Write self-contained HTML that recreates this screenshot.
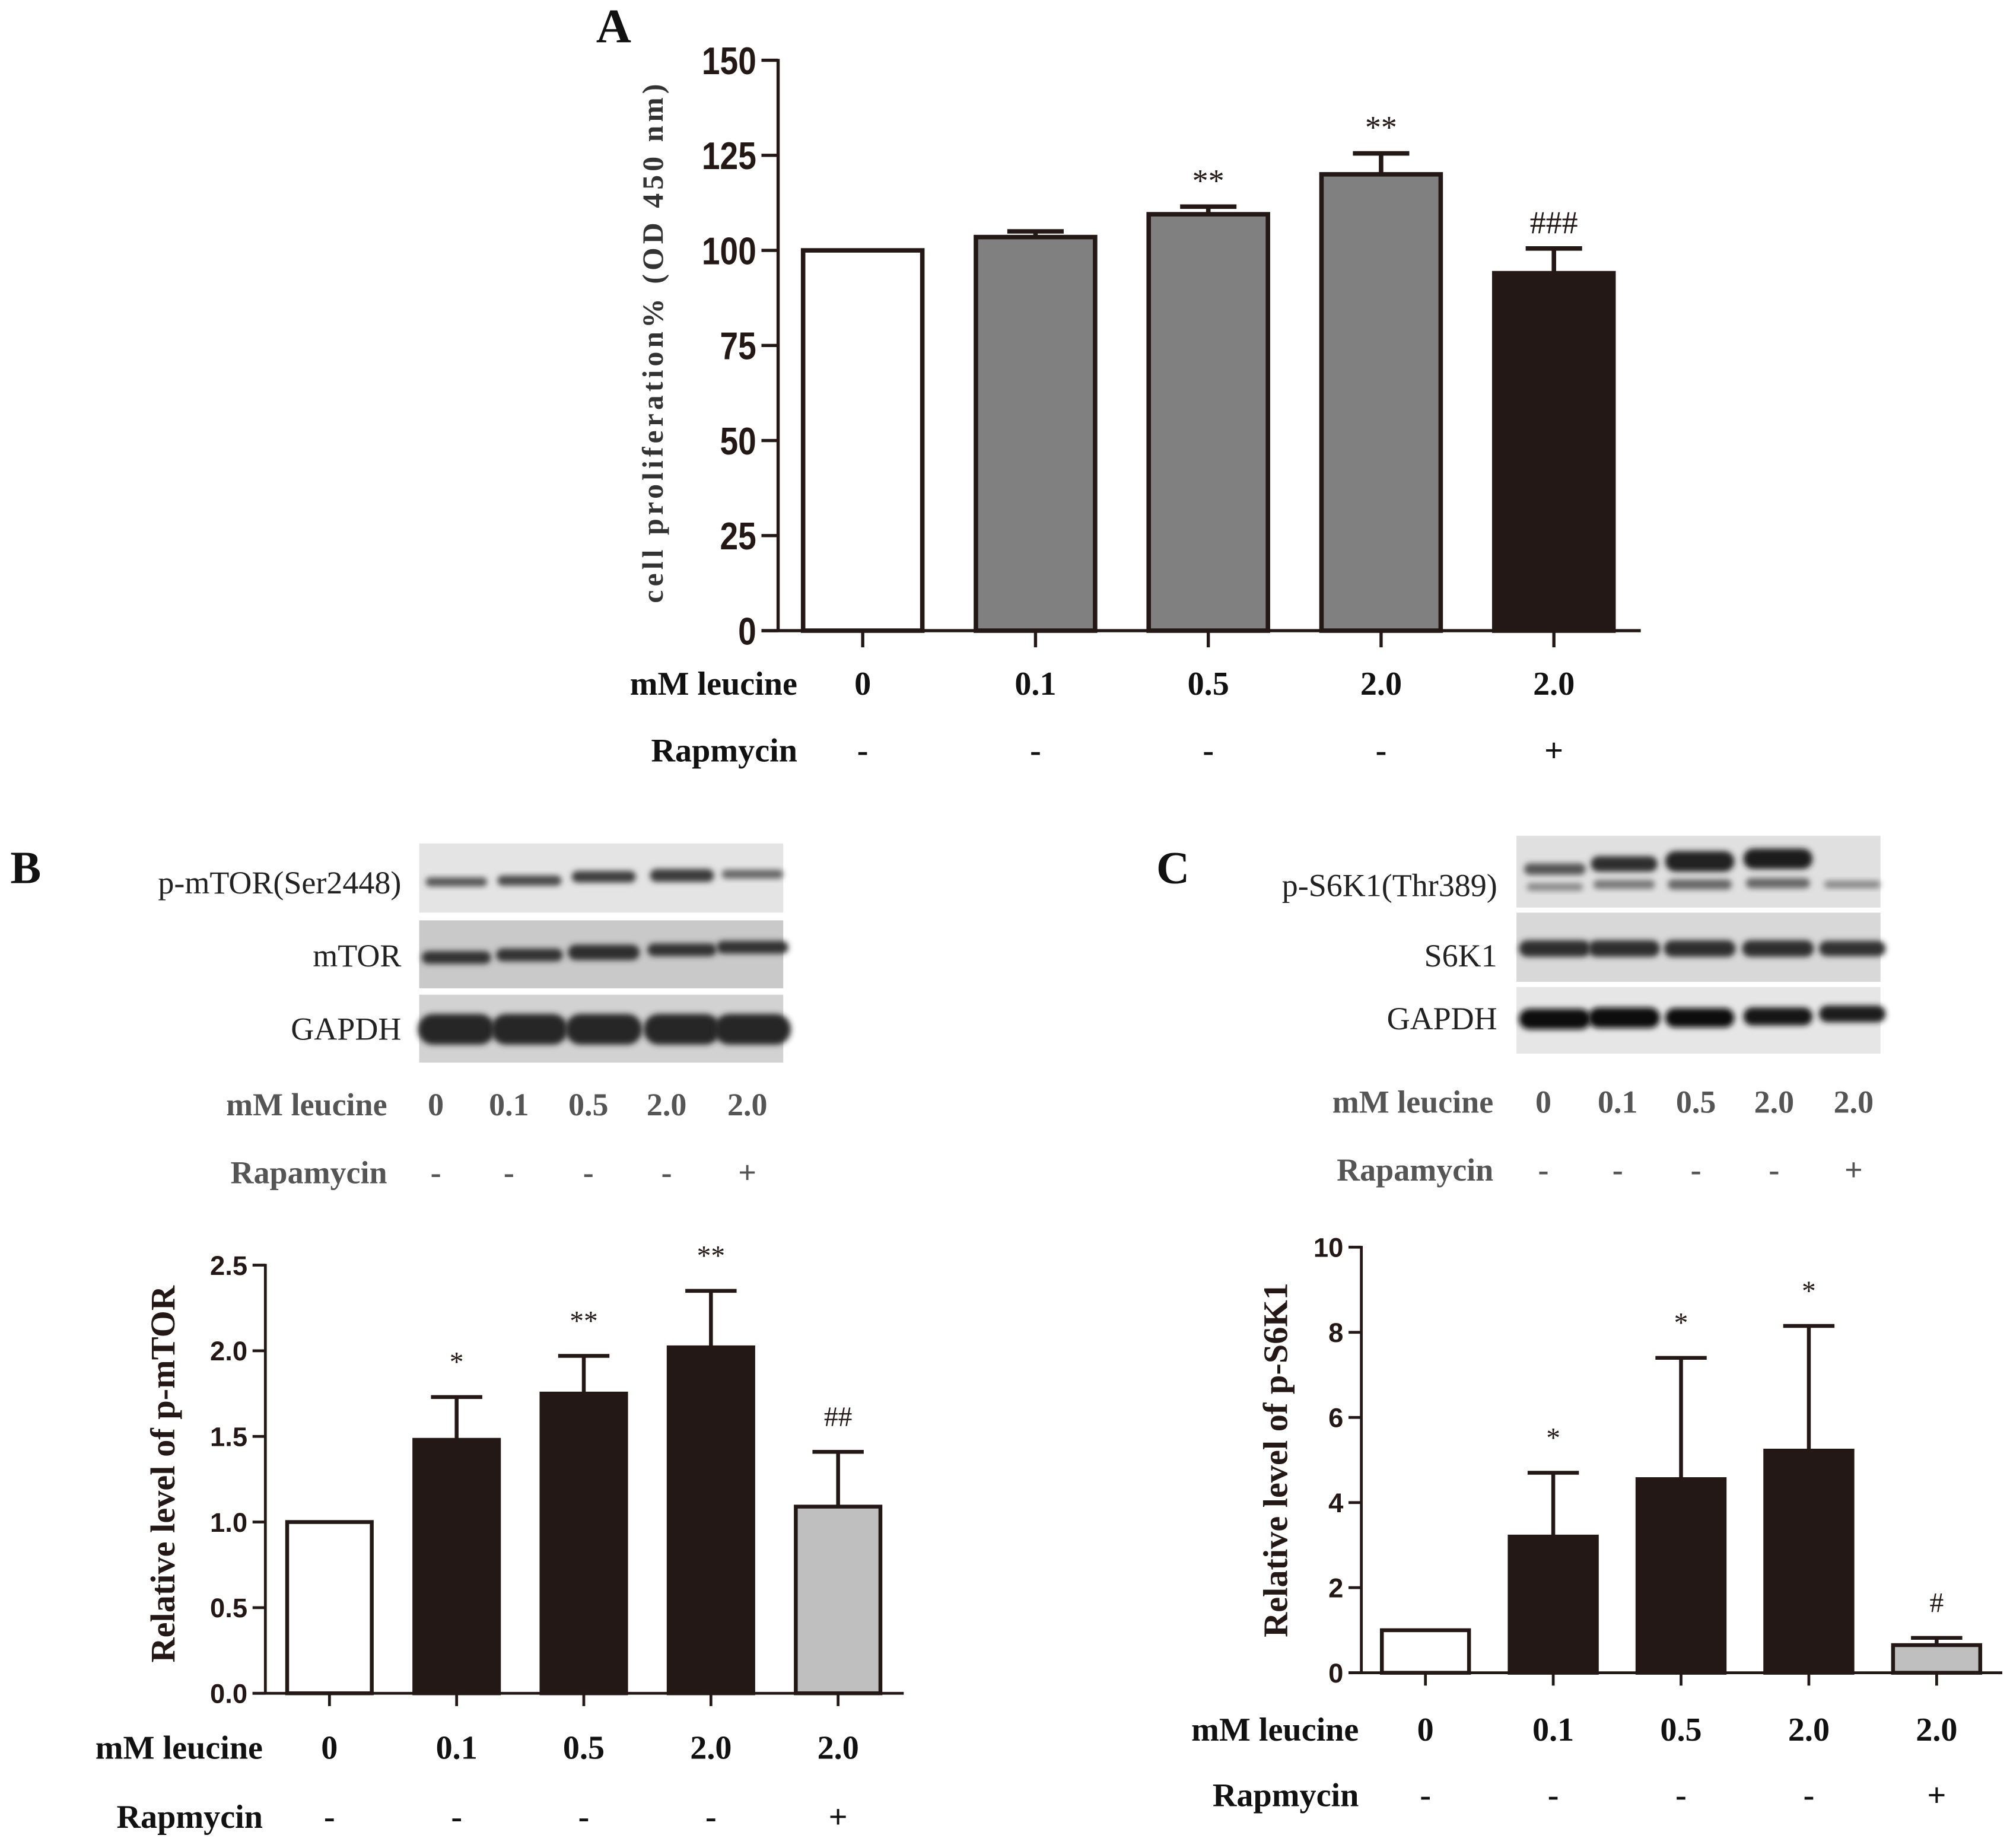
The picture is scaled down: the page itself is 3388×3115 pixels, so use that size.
<!DOCTYPE html>
<html><head><meta charset="utf-8"><style>
html,body{margin:0;padding:0;background:#fff;}
svg{display:block;}
.serif{font-family:"Liberation Serif",serif;}
.sans{font-family:"Liberation Sans",sans-serif;}
</style></head><body>
<svg id="fig" width="3388" height="3115" viewBox="0 0 1568 1441.7" xmlns="http://www.w3.org/2000/svg">
<defs><filter id="blur" x="-20%" y="-50%" width="140%" height="200%"><feGaussianBlur stdDeviation="2.2"/></filter></defs>
<g id="root"></g>
</svg>
<script>
// ---- Panel A data ----
const catsA = ["0","0.1","0.5","2.0","2.0"];
const rapA = ["-","-","-","-","+"];
const valsA = [100, 103.5, 109.5, 120, 94];
const errA = [100, 105, 111.5, 125.5, 100.5];
const sigA = ["", "", "**", "**", "###"];
const ticksA = [0,25,50,75,100,125,150];
// ---- Panel B data ----
const valsB = [1.0, 1.48, 1.75, 2.02, 1.09];
const errB = [1.0, 1.73, 1.97, 2.35, 1.41];
const sigB = ["", "*", "**", "**", "##"];
const ticksB = [0,0.5,1.0,1.5,2.0,2.5];
// ---- Panel C data ----
const valsC = [1.0, 3.2, 4.55, 5.22, 0.65];
const errC = [1.0, 4.7, 7.4, 8.15, 0.82];
const sigC = ["", "*", "*", "*", "#"];
const ticksC = [0,2,4,6,8,10];

const NS = "http://www.w3.org/2000/svg";
const root = document.getElementById('root');
function mk(tag, attrs, parent, text){
  const e = document.createElementNS(NS, tag);
  for (const k in attrs) e.setAttribute(k, attrs[k]);
  if (text !== undefined) e.textContent = text;
  (parent||root).appendChild(e);
  return e;
}

function chart(o){
  const g = mk('g', {});
  
  
  const y = v => o.y0 - (v - o.min) / (o.max - o.min) * (o.y0 - o.y1);
  const x = i => o.x0 + o.first + i * o.step;
  const ax = mk('line', {x1:o.x0, y1:o.y1-1, x2:o.x0, y2:o.y0, stroke:'#231815', 'stroke-width':o.aw}, g);
  
  
  const bx = mk('line', {x1:o.x0 - o.tl, y1:o.y0, x2:o.xEnd, y2:o.y0, stroke:'#231815', 'stroke-width':o.aw}, g);
  
  
  o.ticks.forEach(t => {
    const tk = mk('line', {x1:o.x0 - o.tl, y1:y(t), x2:o.x0, y2:y(t), stroke:'#231815', 'stroke-width':o.aw}, g);
    
    
    const lx = o.x0 - o.tl - 4;
    const lb = mk('text', {x:lx, y:y(t) + o.tfs*0.36, 'text-anchor':'end', 'font-size':o.tfs, 'font-weight':'bold', class:'sans', fill:'#231815', transform:`translate(${lx},0) scale(${o.tsx},1) translate(${-lx},0)`}, g, o.fmt(t));
    
    
  });
  o.vals.forEach((v, i) => {
    const cx = x(i);
    if (o.err[i] > v) {
      const el = mk('line', {x1:cx, y1:y(o.err[i]), x2:cx, y2:y(v), stroke:'#231815', 'stroke-width':o.bw}, g);
      
      
      const cap = mk('line', {x1:cx - o.cap, y1:y(o.err[i]), x2:cx + o.cap, y2:y(o.err[i]), stroke:'#231815', 'stroke-width':o.bw}, g);
      
      
    }
    const r = mk('rect', {x:cx - o.w/2, y:y(v), width:o.w, height:o.y0 - y(v), fill:o.fills[i], stroke:'#231815', 'stroke-width':o.bw}, g);
    
    
    const xt = mk('line', {x1:cx, y1:o.y0, x2:cx, y2:o.y0 + o.tl, stroke:'#231815', 'stroke-width':o.aw}, g);
    
    
    if (o.sig[i]) {
      const top = Math.max(o.err[i], v);
      const s = mk('text', {x:cx, y:y(top) - o.sigGap, 'text-anchor':'middle', 'font-size':o.sfs, class:'serif', fill:'#231815'}, g, o.sig[i]);
      
      
    }
    const c = mk('text', {x:cx, y:o.rowY1, 'text-anchor':'middle', 'font-size':o.rfs, 'font-weight':'bold', class:'serif', fill:'#111'}, g, catsA[i]);
    
    
    const rp = mk('text', {x:cx, y:o.rowY2, 'text-anchor':'middle', 'font-size':o.rfs, 'font-weight':'bold', class:'serif', fill:'#111'}, g, rapA[i]);
    
    
  });
  const l1 = mk('text', {x:o.rowLx, y:o.rowY1, 'text-anchor':'end', 'font-size':o.rfs, 'font-weight':'bold', class:'serif', fill:'#111'}, g, 'mM leucine');
  
  
  const l2 = mk('text', {x:o.rowLx, y:o.rowY2, 'text-anchor':'end', 'font-size':o.rfs, 'font-weight':'bold', class:'serif', fill:'#111'}, g, 'Rapmycin');
  
  
  const ta = {x:0, y:0, 'text-anchor':'middle', 'font-size':o.yfs, 'font-weight':'bold', class:'serif', fill:o.ycol, transform:`translate(${o.ytx},${o.ytc}) rotate(-90)`};
  if (o.ylen) { ta.textLength = o.ylen; ta.lengthAdjust = 'spacing'; }
  const yt = mk('text', ta, g, o.ytitle);
  
  
}

chart({name:'chart-a', x0:607, y0:492, y1:47, min:0, max:150, first:66, step:134.8, w:93, xEnd:1280,
  vals:valsA, err:errA, sig:sigA, ticks:ticksA, fills:['#fff','#808080','#808080','#808080','#231815'],
  fmt:t=>String(t), aw:2.5, bw:3.5, tl:13, cap:22, tfs:30, tsx:0.85, sfs:25, sigGap:12,
  rowY1:542, rowY2:594, rowLx:622, rfs:26, yfs:23, ycol:'#333', ytx:517, ytc:268, ylen:405, ytitle:'cell proliferation% (OD 450 nm)'});

chart({name:'chart-b', x0:207, y0:1321, y1:987, min:0, max:2.5, first:50, step:99.2, w:66, xEnd:705,
  vals:valsB, err:errB, sig:sigB, ticks:ticksB, fills:['#fff','#231815','#231815','#231815','#bfbfbf'],
  fmt:t=>t.toFixed(1), aw:2.2, bw:3, tl:10, cap:20, tfs:21, tsx:1, sfs:22, sigGap:20,
  rowY1:1372, rowY2:1426, rowLx:205, rfs:26, yfs:27, ycol:'#231815', ytx:136, ytc:1150, ytitle:'Relative level of p-mTOR'});

chart({name:'chart-c', x0:1062, y0:1305, y1:973, min:0, max:10, first:50, step:99.7, w:68, xEnd:1562,
  vals:valsC, err:errC, sig:sigC, ticks:ticksC, fills:['#fff','#231815','#231815','#231815','#bfbfbf'],
  fmt:t=>String(t), aw:2.2, bw:3, tl:10, cap:20, tfs:21, tsx:1, sfs:22, sigGap:20,
  rowY1:1358, rowY2:1409, rowLx:1060, rfs:26, yfs:27, ycol:'#231815', ytx:1004, ytc:1139, ytitle:'Relative level of p-S6K1'});

[['A',465,33,38],['B',8,689,36],['C',902,689,36]].forEach(([t,x,y,s])=>{
  const e = mk('text', {x:x, y:y, 'font-size':s, 'font-weight':'bold', class:'serif', fill:'#111'}, root, t);
  
  
});

function blot(name, label, bx, by, bw, bh, bg, lanes, bands, lx, ly){
  const g = mk('g', {});
  
  
  mk('rect', {x:bx, y:by, width:bw, height:bh, fill:bg}, g);
  lanes.forEach((cx, i) => {
    bands[i].forEach(b => {
      const e = mk('rect', {x:cx - b[2]/2, y:by + b[0] - b[1]/2, width:b[2], height:b[1], rx:b[1]/2, fill:b[3], filter:'url(#blur)'}, g);
      
      
    });
  });
  const t = mk('text', {x:lx, y:ly, 'text-anchor':'end', 'font-size':25, class:'serif', fill:'#222'}, root, label);
  
  
}
const lanesB = [356, 413, 471, 532, 587];
blot('blot-p-mtor','p-mTOR(Ser2448)',327,658,284,54,'#e4e4e4',lanesB,
  [[[30,7,48,'#555']],[[29,8,50,'#4a4a4a']],[[26,9,50,'#3e3e3e']],[[25,10,50,'#3a3a3a']],[[24,7,48,'#666']]],313,697);
blot('blot-mtor','mTOR',327,718,284,53,'#c9c9c9',lanesB,
  [[[29,10,54,'#333']],[[27,10,52,'#333']],[[25,12,56,'#2e2e2e']],[[23,10,54,'#333']],[[21,10,56,'#333']]],313,754);
blot('blot-gapdh-b','GAPDH',327,776,284,53,'#d2d2d2',lanesB,
  [[[27,24,60,'#282828']],[[27,24,60,'#282828']],[[27,24,60,'#282828']],[[27,24,60,'#282828']],[[27,24,60,'#282828']]],313,811);
const lanesC = [1213, 1267, 1326, 1387, 1445];
blot('blot-p-s6k1','p-S6K1(Thr389)',1183,652,284,56,'#e0e0e0',lanesC,
  [[[26,9,48,'#555'],[40,6,44,'#888']],[[22,12,52,'#2e2e2e'],[38,7,48,'#777']],[[20,16,54,'#222'],[38,8,50,'#666']],[[18,16,54,'#1c1c1c'],[37,8,50,'#666']],[[38,6,44,'#888']]],1168,699);
blot('blot-s6k1','S6K1',1183,712,284,54,'#d8d8d8',lanesC,
  [[[28,13,56,'#2e2e2e']],[[28,13,56,'#2e2e2e']],[[28,13,56,'#2e2e2e']],[[28,13,56,'#2e2e2e']],[[28,12,52,'#333']]],1168,754);
blot('blot-gapdh-c','GAPDH',1183,770,284,52,'#e6e6e6',lanesC,
  [[[25,16,56,'#111']],[[24,16,56,'#111']],[[24,15,54,'#111']],[[23,14,54,'#151515']],[[21,13,52,'#1a1a1a']]],1168,803);

function condRows(lanes, lx, y1, y2, name){
  const l1 = mk('text', {x:lx, y:y1, 'text-anchor':'end', 'font-size':25, 'font-weight':'bold', class:'serif', fill:'#555'}, root, 'mM leucine');
  
  
  const l2 = mk('text', {x:lx, y:y2, 'text-anchor':'end', 'font-size':25, 'font-weight':'bold', class:'serif', fill:'#555'}, root, 'Rapamycin');
  
  
  lanes.forEach((cx,i)=>{
    const a = mk('text', {x:cx, y:y1, 'text-anchor':'middle', 'font-size':25, 'font-weight':'bold', class:'serif', fill:'#555'}, root, catsA[i]);
    
    
    const b = mk('text', {x:cx, y:y2, 'text-anchor':'middle', 'font-size':25, 'font-weight':'bold', class:'serif', fill:'#555'}, root, rapA[i]);
    
    
  });
}
condRows([340,397,459,520,583], 302, 870, 923, 'blot-b');
condRows([1204,1262,1323,1384,1446], 1165, 868, 921, 'blot-c');
</script>
</body></html>
